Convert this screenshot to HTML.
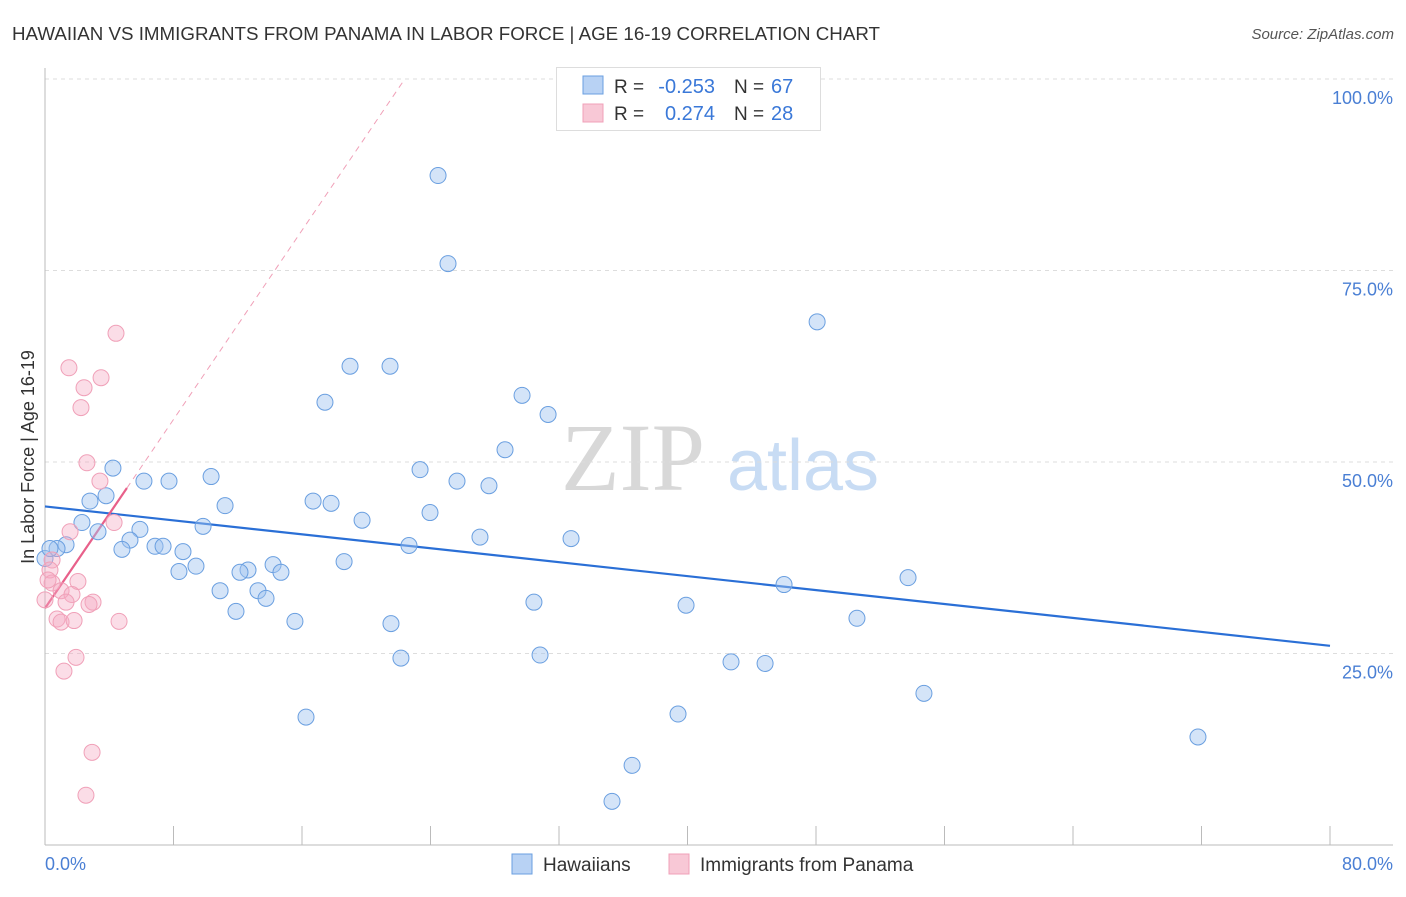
<!DOCTYPE html>
<html><head><meta charset="utf-8">
<style>
body{margin:0;background:#fff;font-family:"Liberation Sans",sans-serif;}
svg text{font-family:"Liberation Sans",sans-serif;}
</style></head>
<body>
<svg id="chart" width="1406" height="892" xmlns="http://www.w3.org/2000/svg">
<text x="12" y="40" font-size="18" fill="#333" textLength="868" lengthAdjust="spacingAndGlyphs">HAWAIIAN VS IMMIGRANTS FROM PANAMA IN LABOR FORCE | AGE 16-19 CORRELATION CHART</text>
<text x="1394" y="39" font-size="15" fill="#555" text-anchor="end" font-style="italic">Source: ZipAtlas.com</text>
<g>
<text x="633" y="490" font-size="96" fill="#d8d8d8" text-anchor="middle" style="font-family:'Liberation Serif',serif">ZIP</text>
<text x="803" y="490" font-size="72" fill="#c8dcf4" text-anchor="middle">atlas</text>
</g>
<g id="grid"></g>
<g id="axes"></g>
<g id="lines"></g>
<g id="pts"></g>
<text transform="translate(34,457) rotate(-90)" font-size="18" fill="#333" text-anchor="middle">In Labor Force | Age 16-19</text>
<g>
<rect x="556.500" y="67.500" width="264" height="63" fill="#fff" stroke="#ddd"/>
<rect x="583" y="76" width="20" height="18" fill="#b8d2f4" stroke="#6a9fe0"/>
<rect x="583" y="104" width="20" height="18" fill="#f8c8d6" stroke="#f0a0b8"/>
<text x="614" y="93" font-size="19" fill="#333">R =</text>
<text x="715" y="93" font-size="20" fill="#3a78d8" text-anchor="end">-0.253</text>
<text x="734" y="93" font-size="19" fill="#333">N =</text>
<text x="771" y="93" font-size="20" fill="#3a78d8">67</text>
<text x="614" y="120" font-size="19" fill="#333">R =</text>
<text x="715" y="120" font-size="20" fill="#3a78d8" text-anchor="end">0.274</text>
<text x="734" y="120" font-size="19" fill="#333">N =</text>
<text x="771" y="120" font-size="20" fill="#3a78d8">28</text>
</g>
<g>
<rect x="512" y="854" width="20" height="20" fill="#b8d2f4" stroke="#6a9fe0"/>
<text x="543" y="871" font-size="19" fill="#333">Hawaiians</text>
<rect x="669" y="854" width="20" height="20" fill="#f8c8d6" stroke="#f0a0b8"/>
<text x="700" y="871" font-size="19" fill="#333">Immigrants from Panama</text>
</g>
</svg>
<script>
const xTicks=[0,8,16,24,32,40,48,56,64,72,80];
const yTicks=[25,50,75,100];
const yTickLabels=["25.0%","50.0%","75.0%","100.0%"];
const xEndLabels=["0.0%","80.0%"];
const blueX=[24.47,25.09,48.07,18.99,21.48,29.70,17.43,31.32,28.64,23.35,25.65,27.64,4.23,6.16,7.72,10.34,3.80,2.80,16.69,17.81,11.21,19.74,23.97,2.30,3.30,5.91,9.84,27.08,32.75,22.66,5.29,6.85,7.35,8.59,4.79,1.31,0.75,0.0,0.31,18.62,14.20,12.64,12.14,14.69,8.34,9.40,53.73,46.01,10.90,13.26,13.76,30.44,39.91,11.89,15.56,21.54,50.55,30.82,22.16,42.71,44.83,54.72,16.25,39.41,71.78,36.55,35.30];
const blueY=[87.4,75.9,68.3,62.5,62.5,58.7,57.8,56.2,51.6,49.0,47.5,46.9,49.2,47.5,47.5,48.1,45.6,44.9,44.9,44.6,44.3,42.4,43.4,42.1,40.9,41.2,41.6,40.2,40.0,39.1,39.8,39.0,39.0,38.3,38.6,39.2,38.7,37.4,38.7,37.0,36.6,35.9,35.6,35.6,35.7,36.4,34.9,34.0,33.2,33.2,32.2,31.7,31.3,30.5,29.2,28.9,29.6,24.8,24.4,23.9,23.7,19.8,16.7,17.1,14.1,10.4,5.7];
const pinkX=[4.42,1.49,3.49,2.43,2.24,2.61,3.42,4.30,1.56,0.44,0.31,2.05,0.44,1.00,1.68,2.99,1.31,2.74,0.75,1.00,1.81,4.61,1.93,1.18,2.93,2.55,0.19,0];
const pinkY=[66.8,62.3,61.0,59.7,57.1,49.9,47.5,42.1,40.9,37.2,35.9,34.4,34.2,33.2,32.7,31.7,31.7,31.4,29.5,29.1,29.3,29.2,24.5,22.7,12.1,6.5,34.6,32.0];
const blueTrend=[[0,44.2],[80,26.0]];
const pinkTrend=[[0,30.9],[5.1,46.6]];
const pinkDash=[[5.1,46.6],[22.4,100]];
const NS="http://www.w3.org/2000/svg";
const X=v=>45+v*(1330-45)/80;
const Y=v=>845-v*(845-79)/100;
function mk(tag,attrs,parent){const e=document.createElementNS(NS,tag);for(const k in attrs)e.setAttribute(k,attrs[k]);parent.appendChild(e);return e;}
const grid=document.getElementById('grid'),axes=document.getElementById('axes'),lines=document.getElementById('lines'),pts=document.getElementById('pts');
yTicks.forEach((t,i)=>{
 const l=mk('line',{x1:45,x2:1393,y1:Y(t),y2:Y(t),stroke:'#ddd','stroke-dasharray':'4,4'},grid);
 
 
 const tx=mk('text',{x:1393,y:Y(t)+25,'font-size':18,fill:'#4a7fd4','text-anchor':'end'},axes);
 tx.textContent=yTickLabels[i];
 
 
});
const ya=mk('line',{x1:45,x2:45,y1:68,y2:845,stroke:'#bbb'},axes);


const xa=mk('line',{x1:45,x2:1393,y1:845,y2:845,stroke:'#bbb'},axes);


xTicks.forEach(t=>{
 const l=mk('line',{x1:X(t),x2:X(t),y1:826,y2:845,stroke:'#bbb'},axes);
 
 
});
const xl0=mk('text',{x:45,y:870,'font-size':18,fill:'#4a7fd4'},axes);xl0.textContent=xEndLabels[0];


const xl1=mk('text',{x:1393,y:870,'font-size':18,fill:'#4a7fd4','text-anchor':'end'},axes);xl1.textContent=xEndLabels[1];


const bt=mk('line',{x1:X(blueTrend[0][0]),y1:Y(blueTrend[0][1]),x2:X(blueTrend[1][0]),y2:Y(blueTrend[1][1]),stroke:'#2a6fd6','stroke-width':2.2},lines);


const pd=mk('line',{x1:X(pinkDash[0][0]),y1:Y(pinkDash[0][1]),x2:X(pinkDash[1][0]),y2:Y(pinkDash[1][1]),stroke:'#f0a0b8','stroke-width':1,'stroke-dasharray':'6,5'},lines);


const pt=mk('line',{x1:X(pinkTrend[0][0]),y1:Y(pinkTrend[0][1]),x2:X(pinkTrend[1][0]),y2:Y(pinkTrend[1][1]),stroke:'#e8608a','stroke-width':2.2},lines);


blueX.forEach((v,i)=>{
 const c=mk('circle',{cx:X(v),cy:Y(blueY[i]),r:8,fill:'rgba(160,195,240,0.45)',stroke:'#6a9fe0','stroke-width':1},pts);
 
 
});
pinkX.forEach((v,i)=>{
 const c=mk('circle',{cx:X(v),cy:Y(pinkY[i]),r:8,fill:'rgba(245,170,195,0.4)',stroke:'#f0a0b8','stroke-width':1},pts);
 
 
});
</script>
</body></html>
